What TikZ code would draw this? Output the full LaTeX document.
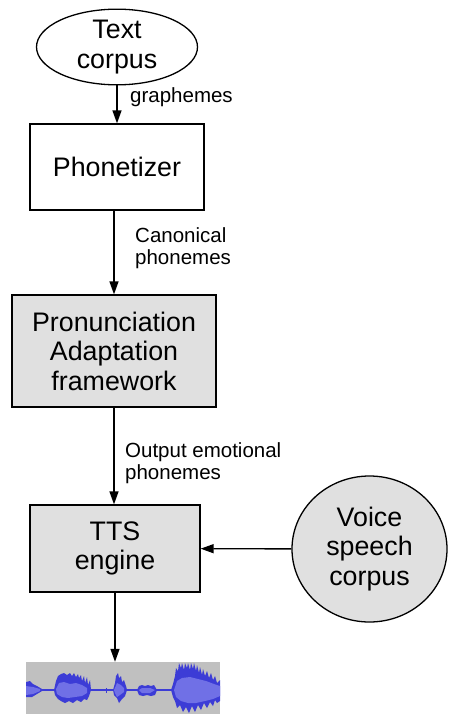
\documentclass[tikz,border=0pt]{standalone}
\usepackage{fontspec}
\setmainfont{Liberation Sans}
\usepackage{tikz}
\usetikzlibrary{positioning,shapes.geometric,arrows.meta}
\definecolor{boxgray}{HTML}{E0E0E0}
\definecolor{wavegray}{HTML}{C0C0C0}
\definecolor{waveblue}{HTML}{7070E6}
\definecolor{wavedark}{HTML}{3C3CD6}

\begin{document}
\begin{tikzpicture}[x=1pt, y=-1pt,
    bigtext/.style = {font=\fontsize{26.8}{29.5}\selectfont, align=center},
    smalltext/.style = {font=\fontsize{20.5}{22}\selectfont, align=left, anchor=west, inner sep=0pt},
    corpus/.style = {draw, ellipse, line width=1.3pt, inner sep=0pt, bigtext},
    stage/.style = {draw, rectangle, line width=1.3pt, inner sep=0pt, bigtext},
    arr/.style = {-{Triangle[length=13pt,width=9pt]}, line width=1.4pt},
    peak/.style = {fill=wavedark},
    rms/.style = {fill=waveblue}]
            \useasboundingbox (0,0) rectangle (453,714);

            \node[corpus, minimum width=161pt, minimum height=70pt] (txt) at (117,47) {Text\\corpus};
            \node[stage, minimum width=174pt, minimum height=86pt] (phon) at (117,167) {Phonetizer};
            \node[stage, fill=boxgray, minimum width=204pt, minimum height=112pt] (adapt) at (114,351) {Pronunciation\\Adaptation\\framework};
            \node[stage, fill=boxgray, minimum width=170pt, minimum height=87pt] (tts) at (115,548.5) {TTS\\engine};
            \node[corpus, fill=boxgray, minimum width=155pt, minimum height=146pt] (voice) at (369.5,549) {Voice\\speech\\corpus};
            \node[fill=wavegray, inner sep=0pt, minimum width=194pt, minimum height=52pt] (wave) at (123,688) {};

            \node[smalltext] (lgraph) at (130,97) {graphemes};
            \node[smalltext] (lcanon) at (135,248) {Canonical\\phonemes};
            \node[smalltext] (lemo) at (125,463) {Output emotional\\phonemes};

            \draw[arr] (txt) -- (txt |- phon.north);
            \draw[arr] (phon.south -| adapt) -- (adapt);
            \draw[arr] (adapt) -- (adapt |- tts.north);
            \draw[arr] (voice) -- (tts);
            \draw[arr] (tts) -- (tts |- wave.north);

            % waveform: peaks (dark) and rms (light)
            \begin{scope}
                \clip (wave.south west) rectangle (wave.north east);
                \draw[wavedark, line width=1.6pt] (26,690) -- (220,690);
                \fill[peak] (26,682) -- (30,681) -- (33,684) -- (37,686) -- (42,689) -- (42,691)
                    -- (37,694) -- (32,697) -- (26,697) -- cycle;
                \fill[rms] (26,686) -- (33,687) -- (40,689) -- (40,691) -- (33,694) -- (26,695) -- cycle;

                \fill[peak] (54,690) -- (56,681) -- (58,676) -- (61,674) -- (64,673) -- (67,675) -- (70,673)
                    -- (72,676) -- (74,673) -- (76,677) -- (78,674) -- (79,678) -- (81,675) -- (82,681)
                    -- (84,676) -- (85,683) -- (87,677) -- (88,685) -- (90,680) -- (91,690)
                    -- (89,696) -- (87,700) -- (84,699) -- (81,702) -- (77,700) -- (73,703) -- (69,701)
                    -- (65,703) -- (61,701) -- (58,699) -- (55,695) -- cycle;
                \fill[rms] (56,689) -- (59,683) -- (64,682) -- (70,684) -- (76,683) -- (82,685) -- (87,688)
                    -- (87,693) -- (82,696) -- (75,697) -- (68,698) -- (62,697) -- (57,694) -- cycle;

                \draw[wavedark, line width=0.8pt] (106,688) -- (106,693);
                \fill[peak] (113,690) -- (115,683) -- (116,676) -- (118,673) -- (119,678) -- (121,676)
                    -- (122,682) -- (124,680) -- (126,686) -- (127,690) -- (125,696) -- (122,699)
                    -- (119,703) -- (117,698) -- (114,695) -- cycle;
                \fill[rms] (114,690) -- (117,683) -- (121,685) -- (124,688) -- (124,692) -- (120,695)
                    -- (117,697) -- (115,693) -- cycle;

                \fill[peak] (137,690) -- (139,686) -- (142,685) -- (145,686) -- (148,685) -- (151,686)
                    -- (154,685) -- (157,690) -- (155,695) -- (151,696) -- (147,695) -- (143,696)
                    -- (139,695) -- cycle;
                \fill[rms] (139,690) -- (142,688) -- (150,688) -- (155,690) -- (150,693) -- (142,693) -- cycle;

                \fill[peak] (171,690) -- (173,684) -- (175,676) -- (176,668) -- (178,671) -- (179,663)
                    -- (181,668) -- (182,663) -- (184,670) -- (185,663) -- (187,668) -- (188,663)
                    -- (190,670) -- (191,663) -- (193,669) -- (194,663) -- (196,671) -- (197,665)
                    -- (199,673) -- (200,667) -- (202,675) -- (203,669) -- (205,676) -- (207,671)
                    -- (209,678) -- (211,673) -- (213,680) -- (215,676) -- (217,683) -- (220,680)
                    -- (220,701) -- (217,703) -- (215,700) -- (213,706) -- (210,702) -- (207,708)
                    -- (204,703) -- (201,710) -- (198,705) -- (195,712) -- (192,706) -- (189,713)
                    -- (186,707) -- (183,712) -- (180,705) -- (177,708) -- (175,701) -- (173,697) -- cycle;
                \fill[rms] (174,690) -- (177,681) -- (182,678) -- (190,677) -- (198,679) -- (206,681)
                    -- (214,684) -- (220,686) -- (220,696) -- (213,699) -- (205,701) -- (196,703)
                    -- (188,703) -- (181,701) -- (176,697) -- cycle;
            \end{scope}

        \end{tikzpicture}
\end{document}
